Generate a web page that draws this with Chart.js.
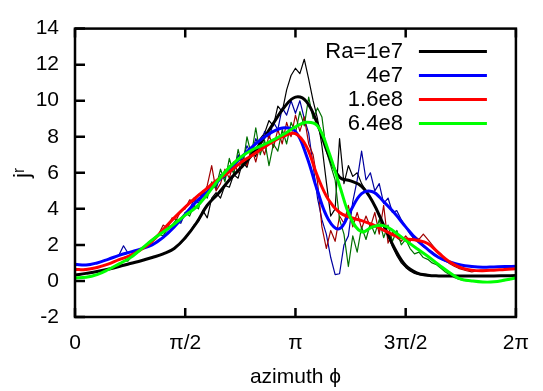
<!DOCTYPE html>
<html>
<head>
<meta charset="utf-8">
<script src="https://cdn.jsdelivr.net/npm/chart.js@4"></script>
<style>
  body { margin: 0; background: #fff; }
  canvas { display: block; }
</style>
</head>
<body>
<canvas id="jr" width="543" height="391"></canvas>
<script>
// azimuth is stored in units of pi (0 .. 2)
const xTickValues = [0, 0.5, 1, 1.5, 2];
const xTickLabels = ["0", "π/2", "π", "3π/2", "2π"];
const legendLabels = ["Ra=1e7", "4e7", "1.6e8", "6.4e8"];

// smoothed profiles
const phiSmooth = [0, 0.05, 0.1, 0.15, 0.2, 0.25, 0.3, 0.35, 0.4, 0.45,
  0.5, 0.55, 0.6, 0.65, 0.7, 0.75, 0.8, 0.85, 0.9, 0.95,
  1, 1.05, 1.1, 1.15, 1.2, 1.25, 1.3, 1.35, 1.4, 1.45,
  1.5, 1.55, 1.6, 1.65, 1.7, 1.75, 1.8, 1.85, 1.9, 1.95, 2];
const ra1e7 = [0.33, 0.42, 0.52, 0.65, 0.8, 0.97, 1.12, 1.3, 1.5, 1.8,
  2.4, 3.2, 4.2, 4.85, 5.6, 6.25, 6.95, 7.8, 8.75, 9.65,
  10.2, 9.95, 8.7, 7.0, 5.75, 5.55, 5.25, 4.4, 3.1, 1.8,
  0.85, 0.45, 0.32, 0.28, 0.27, 0.27, 0.27, 0.28, 0.28, 0.29, 0.3];
const ra4e7 = [0.93, 0.88, 1.0, 1.2, 1.42, 1.6, 1.78, 2.0, 2.42, 3.0,
  3.7, 4.4, 4.95, 5.55, 6.2, 6.8, 7.4, 7.9, 8.3, 8.5,
  8.3, 6.95, 5.0, 3.4, 2.9, 3.9, 4.85, 4.95, 4.4, 3.75,
  3.0, 2.3, 1.75, 1.3, 1.05, 0.88, 0.8, 0.76, 0.78, 0.8, 0.81];
const ra16e8 = [0.63, 0.64, 0.75, 0.93, 1.18, 1.4, 1.75, 2.2, 2.85, 3.5,
  4.1, 4.65, 5.15, 5.65, 6.05, 6.55, 6.95, 7.35, 7.75, 8.05,
  8.17, 7.45, 5.8, 4.5, 3.8, 3.52, 3.35, 3.12, 2.82, 2.52,
  2.33, 2.26, 2.08, 1.55, 1.05, 0.74, 0.6, 0.57, 0.6, 0.64, 0.67];
const ra64e8 = [0.17, 0.2, 0.35, 0.62, 0.95, 1.28, 1.77, 2.27, 2.72, 3.15,
  3.65, 4.1, 4.8, 5.6, 6.3, 6.85, 7.25, 7.53, 7.83, 8.17,
  8.55, 8.8, 8.6, 7.2, 5.3, 3.5, 2.73, 3.0, 3.07, 2.72,
  2.25, 1.8, 1.37, 0.9, 0.45, 0.1, 0.0, -0.06, -0.05, 0.05, 0.17];

// raw (unsmoothed) profiles
const phiRaw = [0, 0.02, 0.04, 0.06, 0.08, 0.1, 0.12, 0.14, 0.16, 0.18,
  0.2, 0.22, 0.24, 0.26, 0.28, 0.3, 0.32, 0.34, 0.36, 0.38,
  0.4, 0.42, 0.44, 0.46, 0.48, 0.5, 0.52, 0.54, 0.56, 0.58,
  0.6, 0.62, 0.64, 0.66, 0.68, 0.7, 0.72, 0.74, 0.76, 0.78,
  0.8, 0.82, 0.84, 0.86, 0.88, 0.9, 0.92, 0.94, 0.96, 0.98,
  1, 1.02, 1.04, 1.06, 1.08, 1.1, 1.12, 1.14, 1.16, 1.18,
  1.2, 1.22, 1.24, 1.26, 1.28, 1.3, 1.32, 1.34, 1.36, 1.38,
  1.4, 1.42, 1.44, 1.46, 1.48, 1.5, 1.52, 1.54, 1.56, 1.58,
  1.6, 1.62, 1.64, 1.66, 1.68, 1.7, 1.72, 1.74, 1.76, 1.78,
  1.8, 1.82, 1.84, 1.86, 1.88, 1.9, 1.92, 1.94, 1.96, 1.98, 2];
const raw1e7 = [0.33, 0.35, 0.4, 0.44, 0.47, 0.52, 0.57, 0.62, 0.68, 0.74,
  0.8, 0.87, 0.94, 1.0, 1.06, 1.12, 1.19, 1.26, 1.34, 1.42,
  1.5, 1.6, 1.72, 1.9, 2.1, 2.35, 2.7, 3.1, 3.3, 3.9,
  3.5, 4.6, 4.9, 4.6, 5.3, 5.2, 5.9, 5.7, 6.6, 6.3,
  7.2, 6.9, 7.9, 8.2, 8.9, 8.6, 9.7, 9.4, 10.6, 11.4,
  11.8, 11.5, 12.3, 11.2, 10.0, 9.0, 7.5, 5.5, 3.6, 4.0,
  7.9, 5.4, 6.4, 5.8, 6.0, 5.4, 5.0, 4.6, 4.2, 3.6,
  3.0, 2.5, 1.9, 1.4, 1.0, 0.75, 0.55, 0.42, 0.35, 0.3,
  0.28, 0.27, 0.27, 0.27, 0.27, 0.27, 0.27, 0.27, 0.27, 0.27,
  0.27, 0.27, 0.28, 0.28, 0.28, 0.28, 0.29, 0.29, 0.29, 0.3, 0.3];
const raw4e7 = [0.95, 0.9, 0.88, 0.9, 0.95, 1.0, 1.08, 1.15, 1.25, 1.3,
  1.45, 1.95, 1.55, 1.65, 1.7, 1.8, 1.85, 1.95, 2.1, 2.3,
  2.4, 2.7, 2.85, 3.3, 3.2, 3.8, 3.9, 4.6, 4.3, 5.0,
  4.8, 5.4, 5.1, 5.9, 5.7, 6.4, 6.0, 7.0, 6.7, 7.5,
  7.0, 7.9, 7.4, 8.3, 7.9, 8.8, 8.4, 9.6, 9.2, 10.0,
  9.3, 10.0, 9.0, 8.2, 6.4, 4.6, 3.4, 2.6, 1.3, 0.35,
  0.4, 2.0, 2.5, 4.4, 5.6, 7.2, 5.6, 6.0, 5.0, 5.4,
  4.3, 4.6, 3.8, 3.9, 3.4, 3.0, 2.6, 2.3, 2.1, 1.9,
  1.75, 1.6, 1.4, 1.25, 1.1, 1.0, 0.95, 0.9, 0.85, 0.82,
  0.8, 0.78, 0.76, 0.76, 0.77, 0.78, 0.79, 0.8, 0.8, 0.81, 0.81];
const raw16e8 = [0.63, 0.62, 0.64, 0.67, 0.72, 0.76, 0.82, 0.9, 0.98, 1.08,
  1.18, 1.28, 1.38, 1.5, 1.62, 1.75, 1.9, 2.1, 2.3, 2.6,
  3.1, 2.9, 3.5, 3.4, 3.9, 4.0, 4.5, 4.4, 4.8, 4.7,
  5.3, 6.4, 5.0, 5.4, 6.2, 5.7, 6.6, 6.0, 7.0, 6.4,
  7.4, 6.6, 7.6, 7.0, 8.1, 7.4, 8.4, 7.6, 8.8, 8.0,
  9.2, 8.3, 9.1, 7.6, 7.0, 5.5, 3.0, 1.8, 2.8, 2.2,
  3.6, 3.2, 4.2, 3.0, 3.8, 2.9, 3.6, 3.0, 3.8, 2.6,
  4.2, 2.1, 2.7, 2.4, 2.2, 2.5, 2.2, 2.5, 2.3, 2.6,
  2.3, 2.0, 1.7, 1.4, 1.15, 0.95, 0.82, 0.7, 0.62, 0.55,
  0.5, 0.55, 0.6, 0.6, 0.6, 0.6, 0.62, 0.63, 0.65, 0.66, 0.67];
const raw64e8 = [0.18, 0.17, 0.19, 0.23, 0.3, 0.36, 0.45, 0.55, 0.67, 0.8,
  0.95, 1.1, 1.1, 1.4, 1.55, 1.75, 2.0, 2.2, 2.4, 2.6,
  2.5, 2.9, 3.1, 3.4, 3.3, 3.8, 3.6, 4.2, 4.0, 4.9,
  4.6, 5.5, 5.2, 6.2, 5.5, 6.8, 5.9, 7.3, 6.3, 8.0,
  7.0, 8.5, 7.0, 7.8, 6.4, 7.6, 7.2, 8.4, 7.6, 8.8,
  8.2, 9.4, 8.6, 10.2, 9.0, 9.6, 9.1, 7.2, 6.4, 5.6,
  3.4, 2.6, 0.8, 2.5, 1.6, 3.0, 2.3, 3.2, 2.6, 3.4,
  2.4, 3.1, 2.2, 2.8, 2.0, 2.3, 1.8, 1.5, 1.6, 1.3,
  1.2, 1.0, 0.9, 0.7, 0.5, 0.35, 0.2, 0.1, 0.05, 0,
  0, -0.03, -0.05, -0.06, -0.05, -0.05, -0.03, 0, 0.05, 0.1, 0.17];

const FONT = "'Liberation Sans', Arial, Helvetica, sans-serif";
const thickColors = ["#000000", "#0000ff", "#ff0000", "#00ff00"];
const thinColors = ["#000000", "#0000a0", "#a00000", "#007000"];

function pts(xs, ys) {
  return xs.map((x, i) => ({ x: x, y: ys[i] }));
}

function line(data, color, width, tension) {
  return {
    data: data,
    borderColor: color,
    backgroundColor: color,
    borderWidth: width,
    pointRadius: 0,
    tension: tension,
    fill: false,
    borderJoinStyle: "round",
  };
}

// first dataset is drawn last (on top)
const datasets = [
  line(pts(phiSmooth, ra64e8), thickColors[3], 3, 0.4),
  line(pts(phiSmooth, ra16e8), thickColors[2], 3, 0.4),
  line(pts(phiSmooth, ra4e7), thickColors[1], 3, 0.4),
  line(pts(phiSmooth, ra1e7), thickColors[0], 3, 0.4),
  line(pts(phiRaw, raw64e8), thinColors[3], 1.2, 0),
  line(pts(phiRaw, raw16e8), thinColors[2], 1.2, 0),
  line(pts(phiRaw, raw4e7), thinColors[1], 1.2, 0),
  line(pts(phiRaw, raw1e7), thinColors[0], 1.2, 0),
];

// gnuplot-like frame, inward ticks and key
const framePlugin = {
  id: "frame",
  afterDatasetsDraw(chart) {
    const { ctx, chartArea: a, scales } = chart;
    const x = scales.x, y = scales.y;
    ctx.save();
    ctx.strokeStyle = "#000";
    ctx.lineWidth = 2.5;
    ctx.beginPath();
    x.ticks.forEach((t) => {
      const px = x.getPixelForValue(t.value);
      ctx.moveTo(px, a.bottom);
      ctx.lineTo(px, a.bottom - 9);
      ctx.moveTo(px, a.top);
      ctx.lineTo(px, a.top + 9);
    });
    y.ticks.forEach((t) => {
      const py = y.getPixelForValue(t.value);
      ctx.moveTo(a.left, py);
      ctx.lineTo(a.left + 10, py);
    });
    ctx.stroke();
    ctx.strokeRect(a.left, a.top, a.width, a.height);

    // key
    ctx.font = "22px " + FONT;
    ctx.fillStyle = "#000";
    ctx.textAlign = "right";
    ctx.textBaseline = "middle";
    legendLabels.forEach((lab, i) => {
      const ly = a.top + 23 + i * 24;
      ctx.fillText(lab, a.right - 113, ly);
      ctx.strokeStyle = thickColors[i];
      ctx.lineWidth = 3;
      ctx.beginPath();
      ctx.moveTo(a.right - 97, ly);
      ctx.lineTo(a.right - 29, ly);
      ctx.stroke();
    });
    ctx.restore();
  },
};

new Chart(document.getElementById("jr"), {
  type: "line",
  data: { datasets: datasets },
  options: {
    responsive: false,
    animation: false,
    devicePixelRatio: 1,
    events: [],
    layout: { padding: { top: 17, right: 20, left: 0, bottom: 0 } },
    plugins: { legend: { display: false }, tooltip: { enabled: false } },
    scales: {
      x: {
        type: "linear",
        min: 0,
        max: 2,
        afterBuildTicks: (s) => {
          s.ticks = xTickValues.map((v) => ({ value: v }));
        },
        afterFit: (s) => {
          s.height = 74;
        },
        grid: { display: false, drawTicks: false },
        border: { display: false },
        ticks: {
          autoSkip: false,
          maxRotation: 0,
          padding: 14,
          color: "#000",
          font: { family: FONT, size: 21 },
          callback: (v) => xTickLabels[xTickValues.indexOf(v)],
        },
        title: {
          display: true,
          text: "azimuth ϕ",
          color: "#000",
          font: { family: FONT, size: 21 },
          padding: { top: 0, bottom: 1 },
        },
      },
      y: {
        min: -2,
        max: 14,
        afterFit: (s) => {
          s.width = 75;
        },
        grid: { display: false, drawTicks: false },
        border: { display: false },
        ticks: {
          stepSize: 2,
          padding: 16,
          color: "#000",
          font: { family: FONT, size: 21 },
        },
        title: {
          display: true,
          text: "jʳ",
          color: "#000",
          font: { family: FONT, size: 22 },
          padding: { top: 10, bottom: 0 },
        },
      },
    },
  },
  plugins: [framePlugin],
});
</script>
</body>
</html>
